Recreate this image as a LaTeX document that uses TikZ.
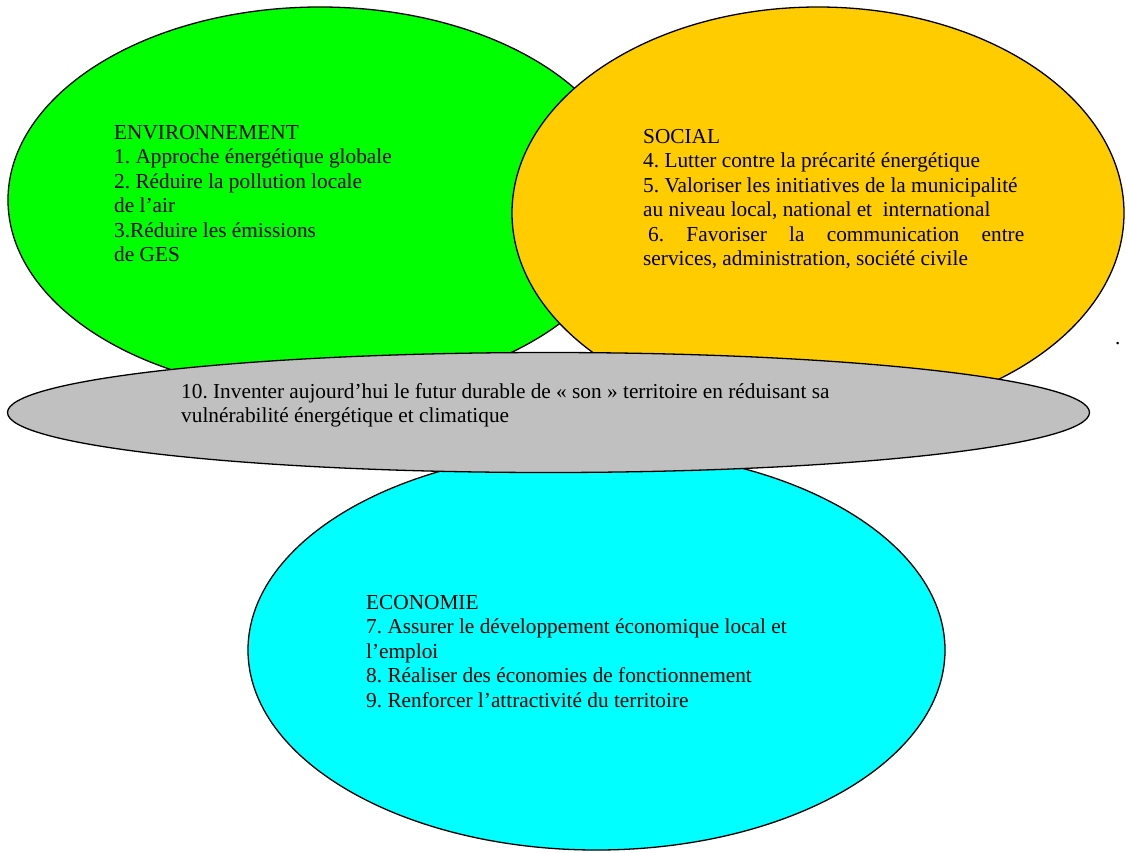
\documentclass[tikz,border=0pt]{standalone}
\usepackage{fontspec}
\setmainfont{Liberation Serif}
\usetikzlibrary{shapes.geometric}
\definecolor{envgreen}{HTML}{00FF00}
\definecolor{socyellow}{HTML}{FFCC00}
\definecolor{ecocyan}{HTML}{00FFFF}
\definecolor{midgray}{HTML}{C0C0C0}
\frenchspacing
\tikzset{
  blob/.style={ellipse, draw=black, line width=1.3pt, inner sep=0pt, outer sep=0pt},
  label/.style={anchor=base west, align=left, inner sep=0pt, font=\fontsize{21.3}{24.5}\selectfont\frenchspacing}
}
\begin{document}
\begin{tikzpicture}[x=1pt,y=-1pt]
\useasboundingbox (0,0) rectangle (1127,852);
\fill[white] (0,0) rectangle (1127,852);
\node[blob, fill=envgreen, minimum width=624pt, minimum height=386pt] (env) at (320,200) {};
\node[blob, fill=socyellow, minimum width=612pt, minimum height=412pt] (soc) at (818,213) {};
\node[blob, fill=ecocyan, minimum width=697pt, minimum height=400pt] (eco) at (596.5,650) {};
\node[blob, fill=midgray, minimum width=1082pt, minimum height=120pt] (mid) at (548.5,412.5) {};
% base anchor of a multi-line node is the baseline of its last line
\node[label] (envtext) at (114,261.5) {ENVIRONNEMENT\\1. Approche énergétique globale\\2. Réduire la pollution locale\\de l’air\\3.Réduire les émissions\\de GES};
\node[label] (soctext) at (643,265.5) {SOCIAL\\4. Lutter contre la précarité énergétique\\5. Valoriser les initiatives de la municipalité\\au niveau local, national et \ international\\\makebox[381pt][s]{\kern5pt 6. Favoriser la communication entre}\\services, administration, société civile};
\node[label] (midtext) at (181,422.5) {10. Inventer aujourd’hui le futur durable de « son » territoire en réduisant sa\\vulnérabilité énergétique et climatique};
\node[label] (ecotext) at (366,707) {ECONOMIE\\7. Assurer le développement économique local et\\l’emploi\\8. Réaliser des économies de fonctionnement\\9. Renforcer l’attractivité du territoire};
\node[label] (dot) at (1115,344) {.};
\end{tikzpicture}
\end{document}
